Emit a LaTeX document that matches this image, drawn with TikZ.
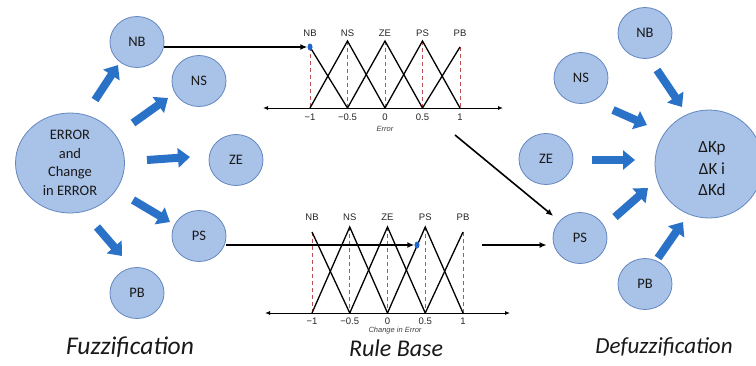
\documentclass[tikz,border=0pt]{standalone}
\usepackage{fontspec}
\setmainfont{Carlito}
\newfontfamily\arialf{Liberation Sans}
\usetikzlibrary{shapes.geometric,arrows.meta,calc}
\definecolor{cfill}{RGB}{169,194,232}
\definecolor{cdraw}{RGB}{100,135,192}
\definecolor{fatblue}{RGB}{42,114,200}
\definecolor{mfred}{RGB}{192,80,77}
\definecolor{dotblue}{RGB}{30,100,205}
\newcommand\mfchart[7]{%
  \draw[mfdash] (#1,#5) -- (#1,#3);
  \draw[mfdash] ({#1+#2},#4) -- ({#1+#2},#3);
  \draw[mfdash] ({#1+2*#2},#4) -- ({#1+2*#2},#3);
  \draw[mfdash] ({#1+3*#2},#4) -- ({#1+3*#2},#3);
  \draw[mfdash] ({#1+4*#2},#5) -- ({#1+4*#2},#3);
  \draw[mfline] (#1,#5) -- ({#1+#2},#3);
  \draw[mfline] (#1,#3) -- ({#1+#2},#4) -- ({#1+2*#2},#3);
  \draw[mfline] ({#1+#2},#3) -- ({#1+2*#2},#4) -- ({#1+3*#2},#3);
  \draw[mfline] ({#1+2*#2},#3) -- ({#1+3*#2},#4) -- ({#1+4*#2},#3);
  \draw[mfline] ({#1+3*#2},#3) -- ({#1+4*#2},#5);
  \draw[axisline] (#6,#3) -- (#7,#3);
}
\begin{document}
\begin{tikzpicture}[x=1pt,y=-1pt,
  mf/.style={ellipse,draw=cdraw,line width=0.8pt,fill=cfill,minimum width=54pt,minimum height=51pt,inner sep=0pt,font=\fontsize{14.5}{17}\selectfont,text=black!90},
  big/.style={ellipse,draw=cdraw,line width=0.8pt,fill=cfill,inner sep=0pt,align=center,text=black!90},
  fat/.style={draw=fatblue,line width=8pt,-{Triangle[length=12pt,width=19pt]}},
  thinarrow/.style={draw=black,line width=1.6pt,-{Latex[length=7pt,width=6pt]}},
  mfline/.style={draw=black,line width=1.3pt},
  mfdash/.style={draw=mfred,line width=0.8pt,dash pattern=on 4pt off 3pt},
  axisline/.style={draw=black,line width=0.9pt,{Latex[length=5pt,width=4pt]}-{Latex[length=5pt,width=4pt]}},
  mflab/.style={font=\arialf\fontsize{9.5}{11}\selectfont,text=black!85},
  axlab/.style={font=\arialf\itshape\fontsize{7.5}{9}\selectfont,text=black!75},
  title/.style={font=\itshape\fontsize{24}{28}\selectfont,text=black!90},
  bdot/.style={ellipse,fill=dotblue,minimum width=5pt,minimum height=7pt,inner sep=0pt}
]
\clip (0,0) rectangle (756,365);
\fill[white] (0,0) rectangle (756,365);

% ---------- left: fuzzification ----------
\node[big,minimum width=109pt,minimum height=100pt,font=\fontsize{14.5}{18.5}\selectfont] (lBig) at (70,163) {ERROR\\and\\Change\\in ERROR};
\node[mf] (lNB) at (137,42) {NB};
\node[mf] (lNS) at (199,81) {NS};
\node[mf] (lZE) at (236,160) {ZE};
\node[mf] (lPS) at (199,236) {PS};
\node[mf] (lPB) at (137,293) {PB};

\draw[fat] ($(lBig)+(25,-63)$) -- ($(lNB)+(-19,23)$);
\draw[fat] ($(lBig)+(63,-40)$) -- ($(lNS)+(-31,17)$);
\draw[fat] ($(lBig)+(77,-3)$) -- ($(lZE)+(-46,-3)$);
\draw[fat] ($(lBig)+(63,37)$) -- ($(lPS)+(-29,-14)$);
\draw[fat] ($(lBig)+(27,64)$) -- ($(lPB)+(-15,-37)$);

\node[title,font=\itshape\fontsize{25.5}{28}\selectfont] (tFuz) at (130,347) {Fuzzification};

% ---------- middle: rule base ----------
\mfchart{310}{37.5}{108}{41}{47}{263}{503}
\foreach \n/\x in {NB/310,NS/347.5,ZE/385,PS/422.5,PB/460}
  \node[mflab] (top\n) at (\x,33) {\n};
\foreach \v/\x in {−1/310,−0.5/347.5,0/385,0.5/422.5,1/460}
  \node[mflab] at (\x,117) {\v};
\node[axlab] (lblErr) at (385,129) {Error};

\mfchart{312}{37.75}{313}{227}{232}{265}{510}
\foreach \n/\x in {NB/312,NS/349.75,ZE/387.5,PS/425.25,PB/463}
  \node[mflab] (bot\n) at (\x,217) {\n};
\foreach \v/\x in {−1/312,−0.5/349.75,0/387.5,0.5/425.25,1/463}
  \node[mflab] at (\x,321) {\v};
\node[axlab] (lblChg) at (395,331) {Change in Error};

\node[bdot] (d1) at (310,47) {};
\node[bdot] (d2) at (417,245) {};

\node[title] (tRule) at (396,348) {Rule Base};

% ---------- right: defuzzification ----------
\node[big,minimum width=108pt,minimum height=108pt] (rBig) at (709,164) {};
\node[align=center,inner sep=0pt,text=black!90,font=\fontsize{17}{21.5}\selectfont] (rTxt) at (712,169) {ΔKp\\ΔK i\\ΔKd};
\node[mf] (rNB) at (645,33) {NB};
\node[mf] (rNS) at (581,78) {NS};
\node[mf] (rZE) at (546,159) {ZE};
\node[mf] (rPS) at (580,238) {PS};
\node[mf] (rPB) at (645,284) {PB};

\draw[fat] ($(rNB)+(12,37)$) -- ($(rBig)+(-27,-57)$);
\draw[fat] ($(rNS)+(32,32)$) -- ($(rBig)+(-62,-39)$);
\draw[fat] ($(rZE)+(46,1)$) -- ($(rBig)+(-74,-4)$);
\draw[fat] ($(rPS)+(35,-21)$) -- ($(rBig)+(-61,24)$);
\draw[fat] ($(rPB)+(13,-26)$) -- ($(rBig)+(-26,58)$);

\node[title,font=\itshape\fontsize{23}{28}\selectfont] (tDef) at (664,347) {Defuzzification};

% ---------- thin connectors ----------
\coordinate (c1) at (455,135);
\coordinate (c2) at (482,245);
\draw[thinarrow] (lNB.east |- d1) -- (d1.west);
\draw[thinarrow] (lPS.east |- d2) -- (d2.west);
\draw[thinarrow,shorten >=8pt] (c1) -- (rPS);
\draw[thinarrow,shorten >=6pt] (c2) -- (c2 -| rPS.west);
\end{tikzpicture}
\end{document}
